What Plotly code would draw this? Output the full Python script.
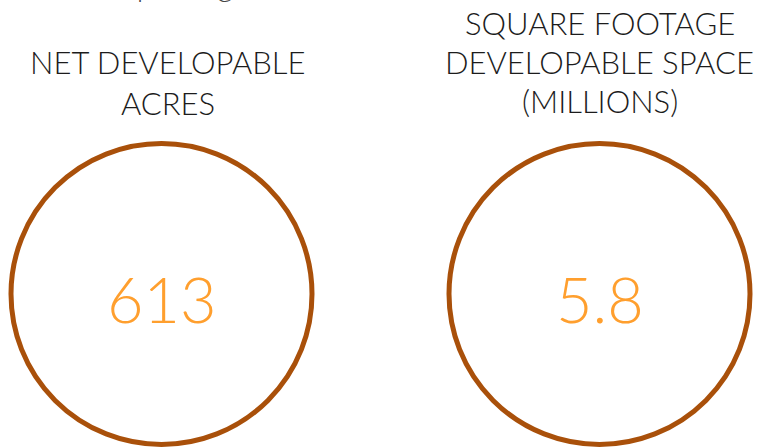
import plotly.graph_objects as go

# Headline metrics shown as ringed figures
metrics = ["Net developable acres", "Square footage (millions)"]
values = [613, 5.8]
value_labels = ["613", "5.8"]
title_lines = [
    ["NET DEVELOPABLE", "ACRES"],
    ["SQUARE FOOTAGE", "DEVELOPABLE SPACE", "(MILLIONS)"],
]
header_text = "Developable ground area"

W, H = 765, 448
RING_COLOR = "#A9500A"
VALUE_COLOR = "#FF9F2E"
TEXT_COLOR = "#1c1c1c"
FONT = "Lato, 'Open Sans', sans-serif"

x_pos = list(range(len(metrics)))

fig = go.Figure()
fig.add_trace(
    go.Scatter(
        x=x_pos,
        y=[0] * len(metrics),
        mode="markers",
        marker=dict(
            symbol="circle-open",
            size=301,
            color=RING_COLOR,
            line=dict(width=5, color=RING_COLOR),
        ),
        customdata=values,
        hoverinfo="skip",
        showlegend=False,
    )
)

# Figure inside each ring
for xi, label in zip(x_pos, value_labels):
    fig.add_annotation(
        x=xi,
        xref="x",
        y=0,
        yref="y",
        yshift=-4,
        text=label,
        showarrow=False,
        xanchor="center",
        yanchor="middle",
        font=dict(family=FONT, size=63, color=VALUE_COLOR, weight=300),
    )

# Title lines above each ring (pixel rows measured from the top edge)
line_rows = [
    [62, 103],
    [23, 62, 101],
]
title_shift = [6, 0]
for xi, lines, rows, dx in zip(x_pos, title_lines, line_rows, title_shift):
    for text, row in zip(lines, rows):
        fig.add_annotation(
            x=xi,
            xref="x",
            xshift=dx,
            y=1 - row / H,
            yref="paper",
            text=text,
            showarrow=False,
            xanchor="center",
            yanchor="middle",
            font=dict(family=FONT, size=31, color=TEXT_COLOR, weight=300),
        )

# Section heading running off the top edge
fig.add_annotation(
    x=40 / W,
    xref="paper",
    y=1 + 2 / H,
    yref="paper",
    text=header_text,
    showarrow=False,
    xanchor="left",
    yanchor="bottom",
    yshift=-7,
    font=dict(family=FONT, size=31, color="#444444", weight=300),
)

cx0, cx1, cy = 161.5, 599.5, 294
step = cx1 - cx0
fig.update_layout(
    width=W,
    height=H,
    margin=dict(l=0, r=0, t=0, b=0),
    paper_bgcolor="white",
    plot_bgcolor="white",
    xaxis=dict(
        range=[-cx0 / step, (W - cx0) / step],
        visible=False,
        fixedrange=True,
    ),
    yaxis=dict(
        range=[-(H - cy), cy],
        visible=False,
        fixedrange=True,
    ),
)

fig.write_html("out.html")
